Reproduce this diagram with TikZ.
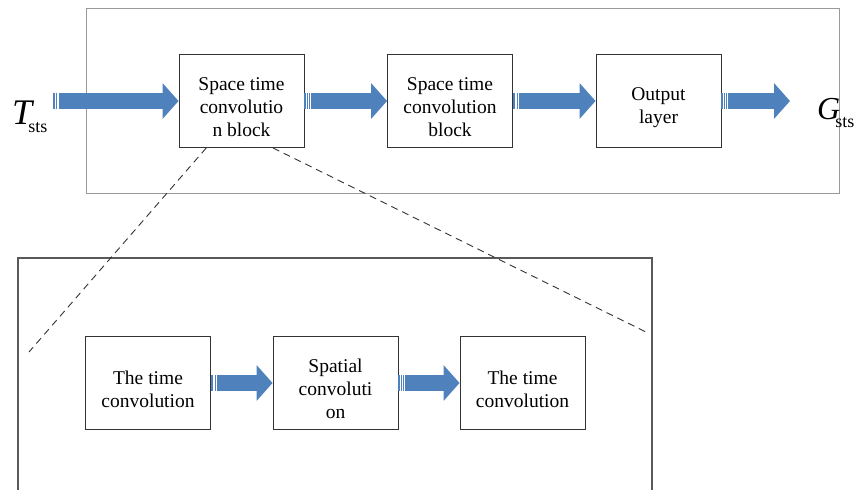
\documentclass[tikz,border=0pt]{standalone}
\usepackage{fontspec}
\setmainfont{Liberation Serif}
\usetikzlibrary{arrows.meta,calc}
\definecolor{flowblue}{RGB}{79,129,189}
\tikzset{
	blk/.style={draw=black!80,line width=0.9pt,minimum width=125pt,minimum height=93pt,inner sep=0pt,align=center,font=\fontsize{19.5}{23}\selectfont},
	flow/.style={draw=flowblue,line width=16pt,-{Triangle[length=16pt,width=35pt]}},
	stripe/.style={white,line width=0.6pt},
}
\newcommand{\flowarrow}[2]{%
	\draw[flow] (#1) -- (#2);
	\foreach \d in {2,3.8,5.6}
		\draw[stripe] ($(#1)+(\d,-8)$) -- ($(#1)+(\d,8)$);
}
% pushes the lines of a box a bit below its middle
\newcommand{\topgap}{\rule{0pt}{26pt}}
% big italic symbol with a lowered subscript: size, kern
\newcommand{\symsub}[4]{{\fontsize{#3}{#3}\selectfont\textit{#1}}\kern#4\raisebox{-8pt}{\fontsize{18}{18}\selectfont #2}}

\begin{document}
\begin{tikzpicture}[x=1pt,y=-1pt]
			\useasboundingbox (0,0) rectangle (855,490);
			% frames
			\draw[black!40,line width=0.8pt] (86,8) rectangle (839,193);
			\draw[black!65,line width=1.3pt] (18,492) -- (18,258) -- (652,258) -- (652,492);
			% upper row
			\node[blk] (stb1) at (241.5,101) {\topgap Space time\\convolutio\\n block};
			\node[blk] (stb2) at (450,101) {\topgap Space time\\convolution\\block};
			\node[blk] (outl) at (658.5,101) {\topgap Output\\layer};
			\node[anchor=base west,inner sep=0pt] (tsts) at (12,124) {\symsub{T}{sts}{36}{-6pt}};
			\node[anchor=base west,inner sep=0pt] (gsts) at (817,119) {\symsub{G}{sts}{32}{-5pt}};
			\coordinate (tin) at (53,101);
			\coordinate (gout) at (790,101);
			\flowarrow{tin}{stb1.west}
			\flowarrow{stb1.east}{stb2.west}
			\flowarrow{stb2.east}{outl.west}
			\flowarrow{outl.east}{gout}
			% lower row
			\node[blk] (tc1) at (148,383) {\topgap The time\\convolution};
			\node[blk] (sc) at (335.5,383) {\topgap Spatial\\convoluti\\on};
			\node[blk] (tc2) at (522.5,383) {\topgap The time\\convolution};
			\flowarrow{tc1.east}{sc.west}
			\flowarrow{sc.east}{tc2.west}
			% zoom lines
			\coordinate (zl) at (29,352);
			\coordinate (zr) at (648,333);
			\draw[black!80,line width=0.9pt,dash pattern=on 7pt off 5pt] ($(stb1.south west)!0.22!(stb1.south east)$) -- (zl);
			\draw[black!80,line width=0.9pt,dash pattern=on 7pt off 5pt] ($(stb1.south west)!0.75!(stb1.south east)$) -- (zr);
		\end{tikzpicture}
\end{document}
